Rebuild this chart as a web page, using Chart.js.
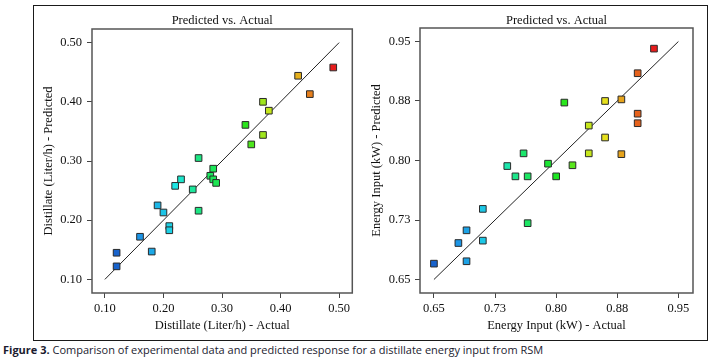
<!DOCTYPE html>
<html>
<head>
<meta charset="utf-8">
<script src="https://cdn.jsdelivr.net/npm/chart.js@4.4.1/dist/chart.umd.min.js"></script>
<style>
  html, body { margin:0; padding:0; background:#fff; }
  body { width:718px; height:364px; position:relative; overflow:hidden; }
  #frame { position:absolute; left:33px; top:5px; width:673px; height:334px; border:1.5px solid #1a1a1a; }
  #c1 { position:absolute; left:34px; top:6px; }
  #c2 { position:absolute; left:358px; top:6px; }
  #cap { position:absolute; left:3px; top:342px; font-family:"Open Sans","Noto Sans",sans-serif; font-size:11px; color:#1b1b2f; white-space:nowrap; }
  #cap b { font-weight:700; }
</style>
</head>
<body>
<div id="frame"></div>
<canvas id="c1" width="324" height="334"></canvas>
<canvas id="c2" width="349" height="334"></canvas>
<div id="cap"><b>Figure 3.</b> Comparison of experimental data and predicted response for a distillate energy input from RSM</div>
<script>
// ---------- DATA ----------
const chartTitle = "Predicted vs. Actual";

const distillateActual    = [0.49, 0.43, 0.45, 0.37, 0.38, 0.34, 0.37, 0.35, 0.26, 0.285, 0.28, 0.285, 0.29, 0.23, 0.22, 0.25, 0.19, 0.20, 0.26, 0.21, 0.21, 0.16, 0.18, 0.12, 0.12];
const distillatePredicted = [0.458, 0.444, 0.413, 0.400, 0.385, 0.361, 0.344, 0.328, 0.305, 0.287, 0.275, 0.269, 0.263, 0.269, 0.258, 0.252, 0.225, 0.213, 0.216, 0.190, 0.183, 0.172, 0.147, 0.145, 0.122];
const distillateTicks      = [0.10, 0.20, 0.30, 0.40, 0.50];
const distillateTickLabels = ["0.10", "0.20", "0.30", "0.40", "0.50"];
const distillateDiagonal   = [0.10, 0.50];

const energyActual    = [0.92, 0.90, 0.88, 0.86, 0.81, 0.90, 0.90, 0.84, 0.86, 0.84, 0.88, 0.76, 0.79, 0.82, 0.74, 0.75, 0.765, 0.80, 0.71, 0.765, 0.69, 0.68, 0.71, 0.69, 0.65];
const energyPredicted = [0.941, 0.910, 0.877, 0.875, 0.873, 0.859, 0.847, 0.844, 0.829, 0.809, 0.808, 0.809, 0.796, 0.794, 0.793, 0.780, 0.780, 0.780, 0.739, 0.721, 0.712, 0.696, 0.699, 0.673, 0.670];
const energyTicks      = [0.65, 0.725, 0.80, 0.875, 0.95];
const energyTickLabels = ["0.65", "0.73", "0.80", "0.88", "0.95"];
const energyDiagonal   = [0.65, 0.95];

// ---------- STYLE HELPERS ----------
const SERIF = '"Liberation Serif","DejaVu Serif",serif';
function hsv(h, s, v) {
  const f = n => { const k = (n + h / 60) % 6; return v - v * s * Math.max(Math.min(k, 4 - k, 1), 0); };
  return `rgb(${Math.round(f(5)*255)},${Math.round(f(3)*255)},${Math.round(f(1)*255)})`;
}
// colour ramp stops (position -> hue) for the value gradient
const rampPos = [0, 0.15, 0.25, 0.4, 0.6, 0.7, 0.8, 0.87, 0.93, 1];
const rampHue = [215, 200, 185, 145, 115, 70, 55, 35, 20, 0];
function hueAt(t) {
  for (let i = 1; i < rampPos.length; i++) {
    if (t <= rampPos[i]) {
      const u = (t - rampPos[i-1]) / (rampPos[i] - rampPos[i-1]);
      return rampHue[i-1] + u * (rampHue[i] - rampHue[i-1]);
    }
  }
  return rampHue[rampHue.length - 1];
}
function colorFor(values) {
  const mn = Math.min(...values), mx = Math.max(...values);
  return values.map(v => {
    const t = (v - mn) / (mx - mn);
    return hsv(hueAt(t), 0.88, t < 0.05 ? 0.8 : 0.9);
  });
}

const framePlugin = {
  id: 'frame',
  afterDraw(chart, args, opts) {
    const a = chart.chartArea, ctx = chart.ctx;
    ctx.save();
    ctx.strokeStyle = '#555';
    ctx.lineWidth = 1.5;
    ctx.strokeRect(a.left, a.top, a.right - a.left, a.bottom - a.top);
    ctx.fillStyle = '#111';
    ctx.font = '12.5px ' + SERIF;
    ctx.textAlign = 'center';
    ctx.textBaseline = 'middle';
    ctx.fillText(opts.text, (a.left + a.right) / 2, opts.y);
    ctx.restore();
  }
};

function makeChart(id, cfg) {
  const pts = cfg.actual.map((x, i) => ({ x: x, y: cfg.predicted[i] }));
  const diag = cfg.diagonal.map(v => ({ x: v, y: v }));
  const tickFont = { family: SERIF, size: 12.5 };
  const lbl = v => { const i = cfg.ticks.findIndex(t => Math.abs(t - v) < 1e-6); return i >= 0 ? cfg.labels[i] : ''; };
  const setTicks = s => { s.ticks = cfg.ticks.map(v => ({ value: v })); };
  return new Chart(document.getElementById(id), {
    type: 'scatter',
    data: {
      datasets: [
        { type: 'line', data: diag, borderColor: '#222', borderWidth: 1, pointRadius: 0, fill: false, order: 2 },
        { data: pts, pointStyle: 'rect', pointRadius: 4.7, pointHoverRadius: 4.7,
          backgroundColor: colorFor(cfg.actual), borderColor: '#2a2a2a', borderWidth: 1, order: 1 }
      ]
    },
    options: {
      responsive: false, animation: false, devicePixelRatio: 1,
      layout: { padding: { top: cfg.padTop, right: cfg.padRight, left: 0, bottom: 0 } },
      plugins: { legend: { display: false }, tooltip: { enabled: false }, frame: { text: chartTitle, y: 15 } },
      scales: {
        x: {
          type: 'linear', min: cfg.xmin, max: cfg.xmax,
          afterBuildTicks: setTicks,
          afterFit: s => { s.height = 47; },
          grid: { display: true, drawOnChartArea: false, drawTicks: true, tickLength: 5, color: '#444', tickWidth: 1 },
          border: { display: false },
          ticks: { font: tickFont, color: '#111', padding: 3, maxRotation: 0, autoSkip: false, callback: lbl },
          title: { display: true, text: cfg.xTitle, font: tickFont, color: '#111', padding: { top: 0, bottom: 6.5 } }
        },
        y: {
          type: 'linear', min: cfg.ymin, max: cfg.ymax,
          afterBuildTicks: setTicks,
          afterFit: s => { s.width = cfg.yWidth; },
          grid: { display: true, drawOnChartArea: false, drawTicks: true, tickLength: 5, color: '#444', tickWidth: 1 },
          border: { display: false },
          ticks: { font: tickFont, color: '#111', padding: cfg.yTickPad, autoSkip: false, callback: lbl },
          title: { display: true, text: cfg.yTitle, font: tickFont, color: '#111', padding: { top: cfg.yTitlePad, bottom: 0 } }
        }
      }
    },
    plugins: [framePlugin]
  });
}

makeChart('c1', {
  actual: distillateActual, predicted: distillatePredicted, diagonal: distillateDiagonal,
  ticks: distillateTicks, labels: distillateTickLabels,
  xmin: 0.078, xmax: 0.5225, ymin: 0.077, ymax: 0.523,
  xTitle: 'Distillate (Liter/h) - Actual', yTitle: 'Distillate (Liter/h) - Predicted',
  padTop: 23, padRight: 1, yWidth: 58, yTickPad: 5, yTitlePad: 7.5
});

makeChart('c2', {
  actual: energyActual, predicted: energyPredicted, diagonal: energyDiagonal,
  ticks: energyTicks, labels: energyTickLabels,
  xmin: 0.6329, xmax: 0.9679, ymin: 0.633, ymax: 0.967,
  xTitle: 'Energy Input (kW) - Actual', yTitle: 'Energy Input (kW) - Predicted',
  padTop: 22, padRight: 14, yWidth: 62, yTickPad: 4.5, yTitlePad: 10.8
});
</script>
</body>
</html>
